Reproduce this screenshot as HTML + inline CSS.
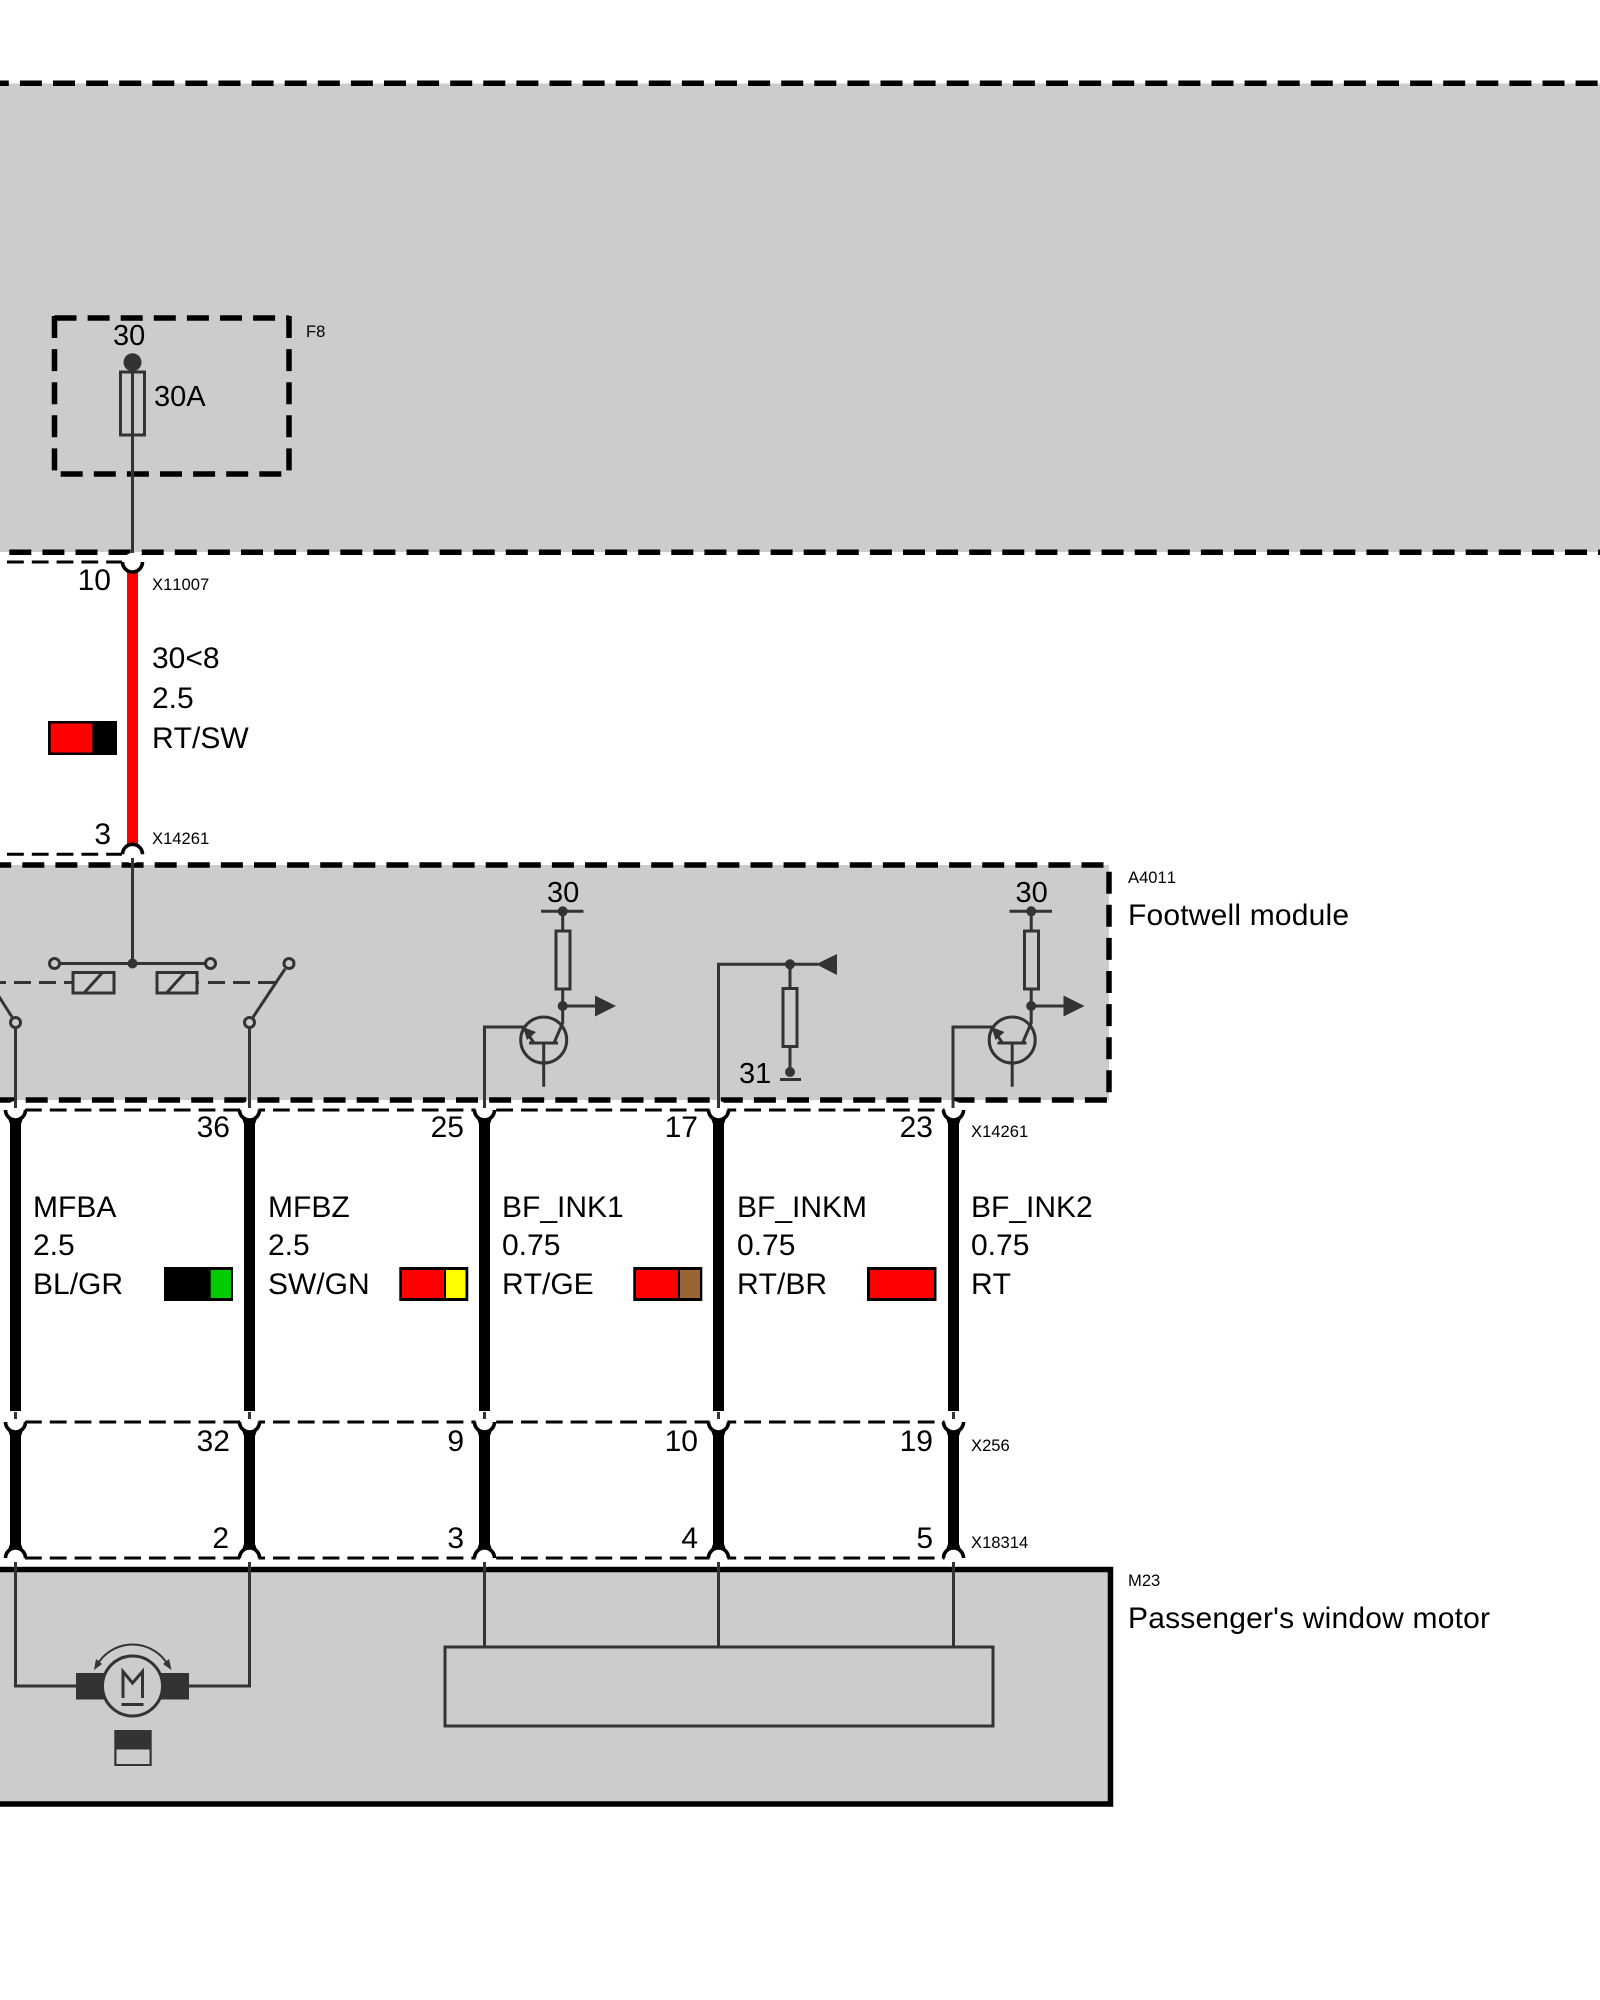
<!DOCTYPE html>
<html><head><meta charset="utf-8"><style>
html,body{margin:0;padding:0;background:#fff}
svg{display:block}
text{font-family:"Liberation Sans",sans-serif;fill:#000;font-kerning:none}
.b{font-size:30px}.n{font-size:29px}.s{font-size:16.6px}
.k{fill:none;stroke:#000;stroke-width:5.5;stroke-dasharray:22 11.1}
.t{fill:none;stroke:#000;stroke-width:3;stroke-dasharray:16.8 8}
.w{fill:none;stroke:#333;stroke-width:3}
.f{fill:#333}
.a{fill:none;stroke:#000;stroke-width:3.6}
</style></head><body>
<svg width="1600" height="2000" viewBox="0 0 1600 2000" xmlns="http://www.w3.org/2000/svg">
<rect width="1600" height="2000" fill="#fff"/>
<!-- top area -->
<rect x="0" y="83.5" width="1600" height="468.5" fill="#ccc"/>
<path class="k" d="M-13.2 83.3H1600"/>
<path class="k" d="M9.3 552.3H1600"/>
<!-- fuse box -->
<path class="k" d="M54.5 318H289"/>
<path class="k" d="M60.7 474H289"/>
<path class="k" d="M54.5 316V474"/>
<path class="k" d="M289 316V474"/>
<circle cx="132.5" cy="362.3" r="9" class="f"/>
<rect x="120.5" y="372" width="24" height="63" class="w"/>
<path class="w" d="M132.5 362V560"/>
<text class="n" x="113" y="345">30</text>
<text class="n" x="154" y="406">30A</text>
<text class="s" x="306" y="337">F8</text>
<!-- module -->
<rect x="0" y="865" width="1109" height="235" fill="#ccc"/>
<path class="k" d="M-10.8 865H1106"/>
<path class="k" d="M-7.4 1100H1107"/>
<path class="k" d="M1109 871.7V1095"/>
<!-- motor box -->
<rect x="-5" y="1569.5" width="1115.5" height="234.5" fill="#ccc" stroke="#000" stroke-width="5.5"/>
<!-- thin dashed connector lines -->
<path class="t" d="M7 562H122"/>
<path class="t" d="M7 854.3H122"/>
<path class="t" d="M25 1110H945"/>
<path class="t" d="M25 1422H945"/>
<path class="t" d="M25 1558H945"/>
<!-- wires -->
<rect x="127" y="570" width="11" height="278" fill="#f00"/>
<g fill="#000">
<rect x="10" y="1116" width="11" height="295"/><rect x="244" y="1116" width="11" height="295"/><rect x="479" y="1116" width="11" height="295"/><rect x="713" y="1116" width="11" height="295"/><rect x="948" y="1116" width="11" height="295"/>
<rect x="10" y="1428" width="11" height="125"/><rect x="244" y="1428" width="11" height="125"/><rect x="479" y="1428" width="11" height="125"/><rect x="713" y="1428" width="11" height="125"/><rect x="948" y="1428" width="11" height="125"/>
<path d="M6.5 1114L10 1124H21L24.5 1114ZM240.5 1114L244 1124H255L258.5 1114ZM475.5 1114L479 1124H490L493.5 1114ZM709.5 1114L713 1124H724L727.5 1114ZM944.5 1114L948 1124H959L962.5 1114Z"/>
<path d="M6.5 1426L10 1436H21L24.5 1426ZM240.5 1426L244 1436H255L258.5 1426ZM475.5 1426L479 1436H490L493.5 1426ZM709.5 1426L713 1436H724L727.5 1426ZM944.5 1426L948 1436H959L962.5 1426Z"/>
<path d="M6.5 1554L10 1544H21L24.5 1554ZM240.5 1554L244 1544H255L258.5 1554ZM475.5 1554L479 1544H490L493.5 1554ZM709.5 1554L713 1544H724L727.5 1554ZM944.5 1554L948 1544H959L962.5 1554Z"/>
</g>
<!-- connector caps -->
<g fill="#fff">
<circle cx="132.5" cy="562" r="9"/><circle cx="132.5" cy="854.3" r="9"/>
<circle cx="15.5" cy="1110" r="9"/><circle cx="249.5" cy="1110" r="9"/><circle cx="484.5" cy="1110" r="9"/><circle cx="718.5" cy="1110" r="9"/><circle cx="953.5" cy="1110" r="9"/>
<circle cx="15.5" cy="1422" r="9"/><circle cx="249.5" cy="1422" r="9"/><circle cx="484.5" cy="1422" r="9"/><circle cx="718.5" cy="1422" r="9"/><circle cx="953.5" cy="1422" r="9"/>
<circle cx="15.5" cy="1558" r="9"/><circle cx="249.5" cy="1558" r="9"/><circle cx="484.5" cy="1558" r="9"/><circle cx="718.5" cy="1558" r="9"/><circle cx="953.5" cy="1558" r="9"/>
</g>
<path class="a" d="M122.5 562A10 10 0 0 0 142.5 562"/>
<path class="a" d="M122.5 854.3A10 10 0 0 1 142.5 854.3"/>
<path class="a" d="M5.5 1110A10 10 0 0 0 25.5 1110M239.5 1110A10 10 0 0 0 259.5 1110M474.5 1110A10 10 0 0 0 494.5 1110M708.5 1110A10 10 0 0 0 728.5 1110M943.5 1110A10 10 0 0 0 963.5 1110"/>
<path class="a" d="M5.5 1422A10 10 0 0 0 25.5 1422M239.5 1422A10 10 0 0 0 259.5 1422M474.5 1422A10 10 0 0 0 494.5 1422M708.5 1422A10 10 0 0 0 728.5 1422M943.5 1422A10 10 0 0 0 963.5 1422"/>
<path class="a" d="M5.5 1558A10 10 0 0 1 25.5 1558M239.5 1558A10 10 0 0 1 259.5 1558M474.5 1558A10 10 0 0 1 494.5 1558M708.5 1558A10 10 0 0 1 728.5 1558M943.5 1558A10 10 0 0 1 963.5 1558"/>
<!-- stubs -->
<path class="w" d="M15.5 1412V1419M249.5 1412V1419M484.5 1412V1419M718.5 1412V1419M953.5 1412V1419"/>
<!-- module internals -->
<path class="w" d="M132.5 858V964M60 963.5H205"/>
<circle cx="132.5" cy="963.5" r="5" class="f"/>
<circle cx="54.5" cy="963.5" r="5" fill="#ccc" stroke="#333" stroke-width="3"/>
<circle cx="210.5" cy="963.5" r="5" fill="#ccc" stroke="#333" stroke-width="3"/>
<rect x="73" y="972.5" width="41" height="20.5" class="w"/>
<rect x="157" y="972.5" width="40" height="20.5" class="w"/>
<path class="w" d="M84 993L102.5 972.5M166.5 993L185 972.5"/>
<path class="w" style="stroke-dasharray:17 8" d="M-11 982.5H73"/>
<path class="w" d="M197 982.5H199"/>
<path class="w" style="stroke-dasharray:17 8" d="M208 982.5H276"/>
<path class="w" d="M252.5 1018L285 969M-2 995L12 1017"/>
<circle cx="289" cy="963.5" r="5" fill="#ccc" stroke="#333" stroke-width="3"/>
<circle cx="249.5" cy="1022.5" r="5" fill="#ccc" stroke="#333" stroke-width="3"/>
<circle cx="15.5" cy="1022.5" r="5" fill="#ccc" stroke="#333" stroke-width="3"/>
<path class="w" d="M249.5 1028V1108M15.5 1028V1108"/>
<!-- transistor 1 -->
<g>
<path class="w" d="M541 911.3H583.5M562.7 911V931M562.7 989V1023L554 1043M529 1043H558M543.7 1043V1086.7M562.7 1006H596M484.5 1108V1027H523L534 1043"/>
<rect x="556" y="931" width="14" height="58" class="w"/>
<circle cx="543.7" cy="1040" r="23" class="w"/>
<circle cx="562.7" cy="911.3" r="5" class="f"/><circle cx="562.7" cy="1006" r="5" class="f"/>
<path class="f" d="M595 995.5L616 1006L595 1016.5Z"/>
<path class="f" d="M523 1027L536 1032L527 1040Z"/>
<text class="n" x="547" y="902">30</text>
</g>
<!-- transistor 2 -->
<g transform="translate(468.5 0)">
<path class="w" d="M541 911.3H583.5M562.7 911V931M562.7 989V1023L554 1043M529 1043H558M543.7 1043V1086.7M562.7 1006H596M484.5 1108V1027H523L534 1043"/>
<rect x="556" y="931" width="14" height="58" class="w"/>
<circle cx="543.7" cy="1040" r="23" class="w"/>
<circle cx="562.7" cy="911.3" r="5" class="f"/><circle cx="562.7" cy="1006" r="5" class="f"/>
<path class="f" d="M595 995.5L616 1006L595 1016.5Z"/>
<path class="f" d="M523 1027L536 1032L527 1040Z"/>
<text class="n" x="547" y="902">30</text>
</g>
<!-- middle -->
<path class="w" d="M718.5 1108V964.3H818M790 964V988M790 1046V1072M780 1079.5H801"/>
<rect x="783" y="988.5" width="14" height="58" class="w"/>
<circle cx="790" cy="964.3" r="5" class="f"/><circle cx="790" cy="1072" r="5" class="f"/>
<path class="f" d="M816 964.3L837 954V975Z"/>
<text class="n" x="739" y="1083">31</text>
<!-- motor -->
<path class="w" d="M15.5 1562V1686H80M249.5 1562V1686H185M484.5 1562V1647M718.5 1562V1647M953.5 1562V1647"/>
<rect x="445" y="1647" width="548" height="79" class="w"/>
<rect x="76" y="1673" width="28" height="26.5" class="f"/>
<rect x="161" y="1673" width="28" height="26.5" class="f"/>
<circle cx="132.5" cy="1686" r="30" fill="#ccc" stroke="#333" stroke-width="3"/>
<path class="w" style="stroke-width:2" d="M97 1665A41 41 0 0 1 168 1665"/>
<path class="f" d="M94 1670L96 1659L102 1664ZM171.5 1670L169 1659L163 1664Z"/>
<path class="w" d="M123 1698V1671.5L132.5 1683L142.5 1671.5V1698M121.5 1704.5H143.5"/>
<rect x="114.3" y="1730" width="37.4" height="36" fill="#333"/>
<rect x="116.5" y="1749.5" width="33" height="14.5" fill="#ccc"/>
<!-- swatches -->
<rect x="48" y="721" width="69" height="34" fill="#000"/><rect x="50.7" y="723.5" width="41.6" height="29" fill="#f00"/>
<rect x="164" y="1267" width="69" height="34" fill="#000"/><rect x="210.7" y="1270" width="20.3" height="28" fill="#0c0"/>
<rect x="399.3" y="1267" width="69" height="34" fill="#000"/><rect x="402" y="1270" width="42" height="28" fill="#f00"/><rect x="446" y="1270" width="19.5" height="28" fill="#ff0"/>
<rect x="633.3" y="1267" width="69" height="34" fill="#000"/><rect x="636" y="1270" width="42" height="28" fill="#f00"/><rect x="680" y="1270" width="20" height="28" fill="#963"/>
<rect x="867" y="1267" width="69.5" height="34" fill="#000"/><rect x="870" y="1270" width="64" height="28" fill="#f00"/>
<!-- labels -->
<text class="b" x="152" y="668">30&lt;8</text><text class="b" x="152" y="708">2.5</text><text class="b" x="152" y="748">RT/SW</text>
<text class="b" x="33" y="1217">MFBA</text><text class="b" x="33" y="1255">2.5</text><text class="b" x="33" y="1294">BL/GR</text>
<text class="b" x="268" y="1217">MFBZ</text><text class="b" x="268" y="1255">2.5</text><text class="b" x="268" y="1294">SW/GN</text>
<text class="b" x="502" y="1217">BF_INK1</text><text class="b" x="502" y="1255">0.75</text><text class="b" x="502" y="1294">RT/GE</text>
<text class="b" x="737" y="1217">BF_INKM</text><text class="b" x="737" y="1255">0.75</text><text class="b" x="737" y="1294">RT/BR</text>
<text class="b" x="971" y="1217">BF_INK2</text><text class="b" x="971" y="1255">0.75</text><text class="b" x="971" y="1294">RT</text>
<text class="b" x="1128" y="925" textLength="221" lengthAdjust="spacing">Footwell module</text>
<text class="b" x="1128" y="1628" textLength="362" lengthAdjust="spacing">Passenger's window motor</text>
<text class="b" text-anchor="end" x="111" y="590">10</text><text class="b" text-anchor="end" x="111" y="844">3</text>
<text class="b" text-anchor="end" x="230" y="1137">36</text><text class="b" text-anchor="end" x="464" y="1137">25</text><text class="b" text-anchor="end" x="698" y="1137">17</text><text class="b" text-anchor="end" x="933" y="1137">23</text>
<text class="b" text-anchor="end" x="230" y="1451">32</text><text class="b" text-anchor="end" x="464" y="1451">9</text><text class="b" text-anchor="end" x="698" y="1451">10</text><text class="b" text-anchor="end" x="933" y="1451">19</text>
<text class="b" text-anchor="end" x="229" y="1548">2</text><text class="b" text-anchor="end" x="464" y="1548">3</text><text class="b" text-anchor="end" x="698" y="1548">4</text><text class="b" text-anchor="end" x="933" y="1548">5</text>
<text class="s" x="152" y="590">X11007</text>
<text class="s" x="152" y="844">X14261</text>
<text class="s" x="971" y="1137">X14261</text>
<text class="s" x="971" y="1451">X256</text>
<text class="s" x="971" y="1548">X18314</text>
<text class="s" x="1128" y="883">A4011</text>
<text class="s" x="1128" y="1586">M23</text>
</svg>
</body></html>
